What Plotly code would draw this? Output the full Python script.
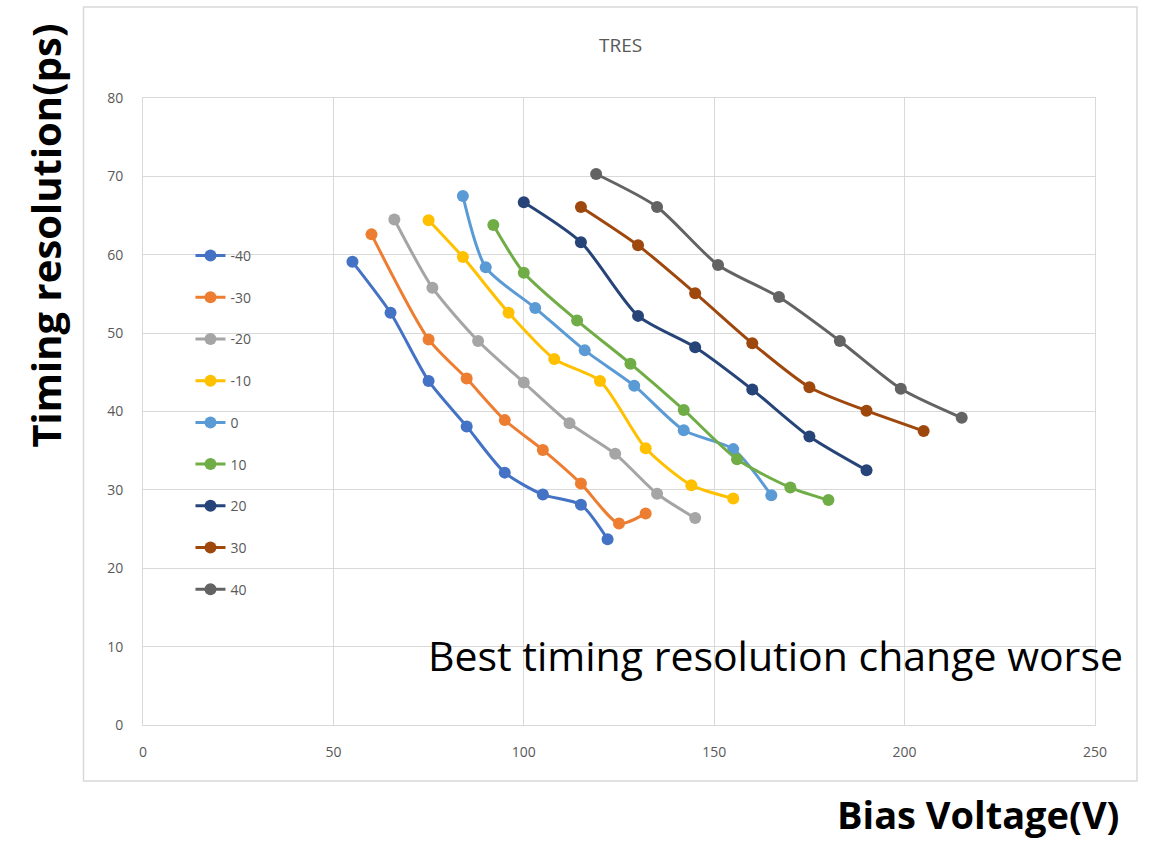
import plotly.graph_objects as go

# ---- data ----
series_names = ["-40", "-30", "-20", "-10", "0", "10", "20", "30", "40"]
colors = ["#4472C4", "#ED7D31", "#A5A5A5", "#FFC000", "#5B9BD5",
          "#70AD47", "#264478", "#9E480E", "#636363"]

x_m40 = [55, 65, 75, 85, 95, 105, 115, 122]
y_m40 = [59.1, 52.6, 43.9, 38.1, 32.2, 29.4, 28.1, 23.7]
x_m30 = [60, 75, 85, 95, 105, 115, 125, 132]
y_m30 = [62.6, 49.2, 44.2, 38.9, 35.1, 30.8, 25.7, 27.0]
x_m20 = [66, 76, 88, 100, 112, 124, 135, 145]
y_m20 = [64.5, 55.8, 49.0, 43.7, 38.5, 34.6, 29.5, 26.4]
x_m10 = [75, 84, 96, 108, 120, 132, 144, 155]
y_m10 = [64.4, 59.7, 52.6, 46.7, 43.9, 35.3, 30.6, 28.9]
x_0 = [84, 90, 103, 116, 129, 142, 155, 165]
y_0 = [67.5, 58.4, 53.2, 47.8, 43.3, 37.6, 35.2, 29.3]
x_10 = [92, 100, 114, 128, 142, 156, 170, 180]
y_10 = [63.8, 57.7, 51.6, 46.1, 40.2, 33.9, 30.3, 28.7]
x_20 = [100, 115, 130, 145, 160, 175, 190]
y_20 = [66.7, 61.6, 52.2, 48.2, 42.8, 36.8, 32.5]
x_30 = [115, 130, 145, 160, 175, 190, 205]
y_30 = [66.1, 61.2, 55.1, 48.7, 43.1, 40.1, 37.5]
x_40 = [119, 135, 151, 167, 183, 199, 215]
y_40 = [70.3, 66.1, 58.7, 54.6, 49.0, 42.9, 39.2]

xs = [x_m40, x_m30, x_m20, x_m10, x_0, x_10, x_20, x_30, x_40]
ys = [y_m40, y_m30, y_m20, y_m10, y_0, y_10, y_20, y_30, y_40]

x_ticks = [0, 50, 100, 150, 200, 250]
y_ticks = [0, 10, 20, 30, 40, 50, 60, 70, 80]

title_text = "TRES"
x_title = "Bias Voltage(V)"
y_title = "Timing resolution(ps)"
note_text = "Best timing resolution change worse"

# ---- figure ----
fig = go.Figure()
for name, c, xv, yv in zip(series_names, colors, xs, ys):
    fig.add_trace(go.Scatter(
        x=xv, y=yv, name=name, legendgroup=name,
        mode="lines+markers",
        line=dict(color=c, width=3, shape="spline", smoothing=0.7),
        marker=dict(color=c, size=12),
    ))

W, H = 1160, 845
L, R, T, B = 142.5, 65, 98, 120
pw, ph = W - L - R, H - T - B

def px(xp):
    return (xp - L) / pw

def py(yp):
    return (H - B - yp) / ph

grid = "#D9D9D9"
tick_font = dict(family="Open Sans, Lato, sans-serif", size=14, color="#595959")

fig.update_layout(
    width=W, height=H,
    margin=dict(l=L, r=R, t=T, b=B, autoexpand=False),
    paper_bgcolor="white", plot_bgcolor="white",
    showlegend=True,
    legend=dict(
        x=px(190), y=py(240), xanchor="left", yanchor="top",
        font=dict(family="Open Sans, Lato, sans-serif", size=14, color="#595959"),
        bgcolor="rgba(0,0,0,0)", tracegroupgap=20.5, itemwidth=30,
    ),
    xaxis=dict(
        range=[0, 250], tickvals=x_ticks, showgrid=True, gridcolor=grid,
        gridwidth=1, zeroline=False, showline=True, mirror=True,
        linecolor=grid, linewidth=1, ticks="", tickfont=tick_font,
        ticklabelstandoff=14,
    ),
    yaxis=dict(
        range=[0, 80], tickvals=y_ticks, showgrid=True, gridcolor=grid,
        gridwidth=1, zeroline=False, showline=True, mirror=True,
        linecolor=grid, linewidth=1, ticks="", tickfont=tick_font,
        ticklabelstandoff=16,
    ),
    shapes=[dict(
        type="rect", xref="paper", yref="paper",
        x0=px(83), x1=px(1137), y0=py(781), y1=py(7),
        line=dict(color=grid, width=1.5), fillcolor="rgba(0,0,0,0)",
        layer="below",
    )],
    annotations=[
        dict(text=title_text, xref="paper", yref="paper",
             x=px(620), y=py(45), xanchor="center", yanchor="middle",
             showarrow=False,
             font=dict(family="Open Sans, Lato, sans-serif", size=19, color="#595959")),
        dict(text="<b>" + y_title + "</b>", xref="paper", yref="paper",
             x=px(44), y=py(236), xanchor="center", yanchor="middle",
             textangle=-90, showarrow=False,
             font=dict(family="Open Sans, sans-serif", size=40, color="black")),
        dict(text="<b>" + x_title + "</b>", xref="paper", yref="paper",
             x=px(1121), y=py(814), xanchor="right", yanchor="middle",
             showarrow=False,
             font=dict(family="Open Sans, sans-serif", size=38, color="black")),
        dict(text=note_text, xref="x", yref="y",
             x=74.2, y=8.9, xanchor="left", yanchor="middle",
             showarrow=False,
             font=dict(family="Open Sans, sans-serif", size=41, color="black")),
    ],
)

fig.write_html("out.html")
